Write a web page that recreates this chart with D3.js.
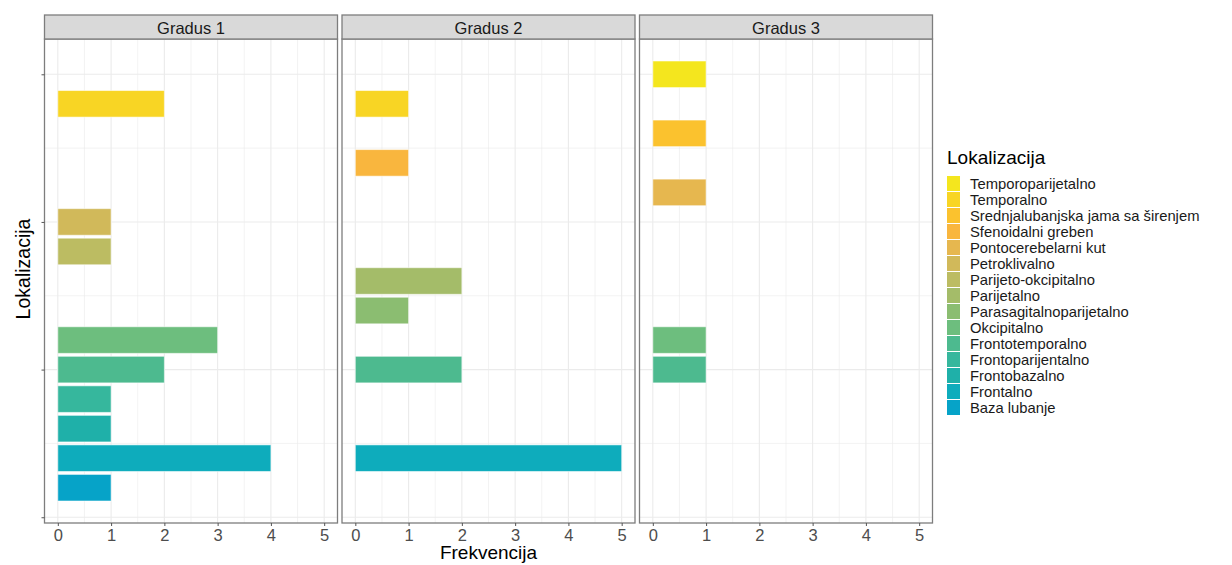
<!DOCTYPE html>
<html>
<head>
<meta charset="utf-8">
<script src="https://cdn.jsdelivr.net/npm/d3@7"></script>
<style>
  html, body { margin: 0; padding: 0; background: #fff; }
  svg { display: block; font-family: "Liberation Sans", Arial, sans-serif; }
</style>
</head>
<body>
<svg id="chart" width="1232" height="565"></svg>
<script>
// Locations, listed from the bottom of the y axis (position 1) to the top (position 15)
const lokalizacije = [
  "Baza lubanje", "Frontalno", "Frontobazalno", "Frontoparijentalno",
  "Frontotemporalno", "Okcipitalno", "Parasagitalnoparijetalno", "Parijetalno",
  "Parijeto-okcipitalno", "Petroklivalno", "Pontocerebelarni kut",
  "Sfenoidalni greben", "Srednjalubanjska jama sa širenjem", "Temporalno",
  "Temporoparijetalno"
];

// Facet labels
const gradusi = ["Gradus 1", "Gradus 2", "Gradus 3"];

// Frequencies per location (same order as lokalizacije); 0 = no bar
const frekGradus1 = [1, 4, 1, 1, 2, 3, 0, 0, 1, 1, 0, 0, 0, 2, 0];
const frekGradus2 = [0, 5, 0, 0, 2, 0, 1, 2, 0, 0, 0, 1, 0, 1, 0];
const frekGradus3 = [0, 0, 0, 0, 1, 1, 0, 0, 0, 0, 1, 0, 1, 0, 1];

// Axis breaks
const xTicks = [0, 1, 2, 3, 4, 5];
const yBreaks = [0, 5, 10, 15];
const yMinor = [2.5, 7.5, 12.5];

// Fill colours, one per location (blue → yellow)
const boje = [
  "#06a3c8", "#0eacbc", "#1fb0a9", "#36b79d", "#4dba8f", "#6dbe7e",
  "#8bbd71", "#a4bc69", "#bcbc62", "#d1b95a", "#e6b74f", "#f9b63e",
  "#fbc22e", "#f8d524", "#f4e61e"
];

const frekvencije = [frekGradus1, frekGradus2, frekGradus3];

const svg = d3.select("#chart");

const panelW = 293, panelGap = 4.5, panelLeft0 = 44.5;
const stripTop = 15, panelTop = 39, panelBottom = 523;

const color = d3.scaleOrdinal().domain(lokalizacije).range(boje);

// y: continuous position scale (bars centred on 1..15, width 0.9, 5% expansion)
const yLo = 0.55, yHi = 15.45, yPad = (yHi - yLo) * 0.05;
const y = d3.scaleLinear().domain([yLo - yPad, yHi + yPad]).range([panelBottom, panelTop]);

const gridCol = "#ebebeb", borderCol = "#7d7d7d";

gradusi.forEach((g, p) => {
  const left = panelLeft0 + p * (panelW + panelGap);
  const x = d3.scaleLinear().domain([-0.25, 5.25]).range([left, left + panelW]);
  const panel = svg.append("g");

  // minor grid
  d3.range(0.5, 5, 1).forEach(v => {
    panel.append("line").attr("x1", x(v)).attr("x2", x(v))
      .attr("y1", panelTop).attr("y2", panelBottom)
      .attr("stroke", gridCol).attr("stroke-width", 0.6);
  });
  yMinor.forEach(v => {
    panel.append("line").attr("x1", left).attr("x2", left + panelW)
      .attr("y1", y(v)).attr("y2", y(v))
      .attr("stroke", gridCol).attr("stroke-width", 0.6);
  });
  // major grid
  xTicks.forEach(v => {
    panel.append("line").attr("x1", x(v)).attr("x2", x(v))
      .attr("y1", panelTop).attr("y2", panelBottom)
      .attr("stroke", gridCol).attr("stroke-width", 1.1);
  });
  yBreaks.forEach(v => {
    panel.append("line").attr("x1", left).attr("x2", left + panelW)
      .attr("y1", y(v)).attr("y2", y(v))
      .attr("stroke", gridCol).attr("stroke-width", 1.1);
  });

  // bars
  const rows = lokalizacije.map((name, i) => ({ name, pos: i + 1, value: frekvencije[p][i] }))
    .filter(d => d.value > 0);
  panel.selectAll("rect.bar").data(rows).join("rect")
    .attr("class", "bar")
    .attr("x", x(0))
    .attr("y", d => y(d.pos + 0.45))
    .attr("width", d => x(d.value) - x(0))
    .attr("height", d => y(d.pos - 0.45) - y(d.pos + 0.45))
    .attr("fill", d => color(d.name))
    .attr("stroke", "#ffffff").attr("stroke-opacity", 0.55).attr("stroke-width", 1);

  // panel border
  panel.append("rect").attr("x", left).attr("y", panelTop)
    .attr("width", panelW).attr("height", panelBottom - panelTop)
    .attr("fill", "none").attr("stroke", borderCol).attr("stroke-width", 1.3);

  // strip
  panel.append("rect").attr("x", left).attr("y", stripTop)
    .attr("width", panelW).attr("height", panelTop - stripTop)
    .attr("fill", "#d9d9d9").attr("stroke", borderCol).attr("stroke-width", 1.3);
  panel.append("text").attr("x", left + panelW / 2).attr("y", (stripTop + panelTop) / 2 + 0.5)
    .attr("text-anchor", "middle").attr("dominant-baseline", "central")
    .attr("font-size", 16.5).attr("fill", "#1a1a1a").text(g);

  // x axis
  const xAxis = d3.axisBottom(x).tickValues(xTicks).tickSize(3).tickPadding(3).tickFormat(d3.format("d"));
  const ax = panel.append("g").attr("transform", `translate(0,${panelBottom})`).call(xAxis);
  ax.select(".domain").remove();
  ax.selectAll("line").attr("stroke", "#555");
  ax.selectAll("text").attr("font-size", 16.5).attr("fill", "#4d4d4d")
    .attr("font-family", "Liberation Sans, Arial, sans-serif");
});

// y axis: ticks with blank labels
const yAxis = d3.axisLeft(y).tickValues(yBreaks).tickSize(3).tickFormat(() => "");
const ay = svg.append("g").attr("transform", `translate(${panelLeft0},0)`).call(yAxis);
ay.select(".domain").remove();
ay.selectAll("line").attr("stroke", "#555");

// axis titles
const panelsRight = panelLeft0 + 3 * panelW + 2 * panelGap;
svg.append("text").attr("x", (panelLeft0 + panelsRight) / 2).attr("y", 559)
  .attr("text-anchor", "middle").attr("font-size", 19).attr("fill", "#000")
  .text("Frekvencija");
svg.append("text")
  .attr("transform", `translate(30,${(stripTop + panelBottom) / 2}) rotate(-90)`)
  .attr("text-anchor", "middle").attr("font-size", 19.5).attr("fill", "#000")
  .text("Lokalizacija");

// legend
const legX = 947, legTop = 176, keyH = 16, keyW = 13;
const legend = svg.append("g");
legend.append("text").attr("x", legX).attr("y", 164)
  .attr("font-size", 19).attr("fill", "#000").text("Lokalizacija");
const legendItems = lokalizacije.slice().reverse();
legend.selectAll("rect.key").data(legendItems).join("rect")
  .attr("class", "key")
  .attr("x", legX).attr("y", (d, i) => legTop + i * keyH)
  .attr("width", keyW).attr("height", keyH - 1)
  .attr("fill", d => color(d));
legend.selectAll("text.lab").data(legendItems).join("text")
  .attr("class", "lab")
  .attr("x", legX + 23).attr("y", (d, i) => legTop + i * keyH + keyH / 2)
  .attr("dominant-baseline", "central")
  .attr("font-size", 14.8).attr("fill", "#1a1a1a")
  .text(d => d);
</script>
</body>
</html>
